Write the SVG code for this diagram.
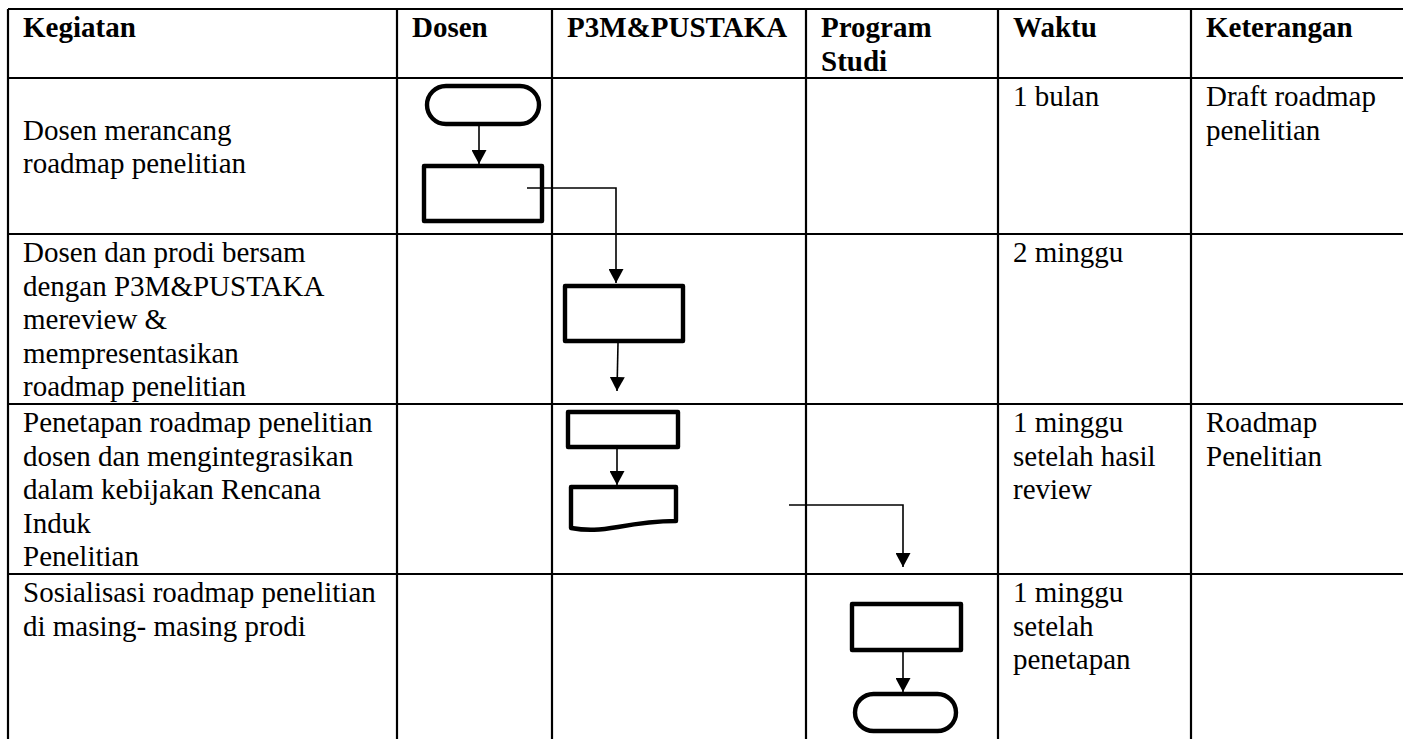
<svg xmlns="http://www.w3.org/2000/svg" width="1403" height="739" viewBox="0 0 1403 739">
<style>
.grid{stroke:#000;stroke-width:2.2;fill:none}
.shape{fill:#fff;stroke:#000;stroke-width:4.4;stroke-linejoin:round}
.conn{fill:none;stroke:#000;stroke-width:1.6}
text{font-family:"Liberation Serif","Times New Roman",serif;font-size:29px;fill:#000}
.h{font-weight:bold}
</style>
<defs>
<marker id="arr" markerUnits="userSpaceOnUse" markerWidth="15" markerHeight="15" refX="14" refY="7.5" orient="auto" viewBox="0 0 15 15">
<path d="M0,0 L14,7.5 L0,15 z" fill="#000"/>
</marker>
</defs>
<rect width="1403" height="739" fill="#fff"/>
<g id="table">
<path class="grid" d="M8,9 H1403 M8,78 H1403 M8,234 H1403 M8,404 H1403 M8,574 H1403 M8,9 V739 M397,9 V739 M552,9 V739 M806,9 V739 M998,9 V739 M1191,9 V739"/>
</g>
<g id="header">
<text class="h" x="23" y="37">Kegiatan</text>
<text class="h" x="412" y="37">Dosen</text>
<text class="h" x="567" y="37">P3M&amp;PUSTAKA</text>
<text class="h" x="821" y="37">Program</text>
<text class="h" x="821" y="71">Studi</text>
<text class="h" x="1013" y="37">Waktu</text>
<text class="h" x="1206" y="37">Keterangan</text>
</g>
<g id="row1">
<text x="23" y="139.5">Dosen merancang</text>
<text x="23" y="173">roadmap penelitian</text>
<text x="1013" y="106">1 bulan</text>
<text x="1206" y="106">Draft roadmap</text>
<text x="1206" y="139.5">penelitian</text>
</g>
<g id="row2">
<text x="23" y="262">Dosen dan prodi bersam</text>
<text x="23" y="295.5">dengan P3M&amp;PUSTAKA</text>
<text x="23" y="329">mereview &amp;</text>
<text x="23" y="362.5">mempresentasikan</text>
<text x="23" y="396">roadmap penelitian</text>
<text x="1013" y="262">2 minggu</text>
</g>
<g id="row3">
<text x="23" y="432">Penetapan roadmap penelitian</text>
<text x="23" y="465.5">dosen dan mengintegrasikan</text>
<text x="23" y="499">dalam kebijakan Rencana</text>
<text x="23" y="532.5">Induk</text>
<text x="23" y="566">Penelitian</text>
<text x="1013" y="432">1 minggu</text>
<text x="1013" y="465.5">setelah hasil</text>
<text x="1013" y="499">review</text>
<text x="1206" y="432">Roadmap</text>
<text x="1206" y="465.5">Penelitian</text>
</g>
<g id="row4">
<text x="23" y="602">Sosialisasi roadmap penelitian</text>
<text x="23" y="635.5">di masing- masing prodi</text>
<text x="1013" y="602">1 minggu</text>
<text x="1013" y="635.5">setelah</text>
<text x="1013" y="669">penetapan</text>
</g>
<g id="start"><rect class="shape" x="427" y="86" width="112" height="38" rx="19"/></g>
<g id="dosen-process"><rect class="shape" x="424" y="166" width="118" height="55"/></g>
<g id="p3m-review"><rect class="shape" x="565" y="286" width="118" height="55"/></g>
<g id="p3m-penetapan"><rect class="shape" x="568" y="412" width="110" height="35"/></g>
<g id="p3m-document"><path class="shape" d="M571,487 H676 V521 C655,521 640,523 618,527 C600,530 588,531 571,528 Z"/></g>
<g id="prodi-sosialisasi"><rect class="shape" x="852" y="604" width="109" height="46"/></g>
<g id="end"><rect class="shape" x="855" y="694" width="101" height="37" rx="18.5"/></g>
<g id="connectors">
<path class="conn" marker-end="url(#arr)" d="M479,126 V164"/>
<path class="conn" marker-end="url(#arr)" d="M527,188 H616 V283"/>
<path class="conn" marker-end="url(#arr)" d="M618,343 L617,391"/>
<path class="conn" marker-end="url(#arr)" d="M617,449 V485"/>
<path class="conn" marker-end="url(#arr)" d="M789,505 H903 V567"/>
<path class="conn" marker-end="url(#arr)" d="M903,652 V692"/>
</g>
</svg>
